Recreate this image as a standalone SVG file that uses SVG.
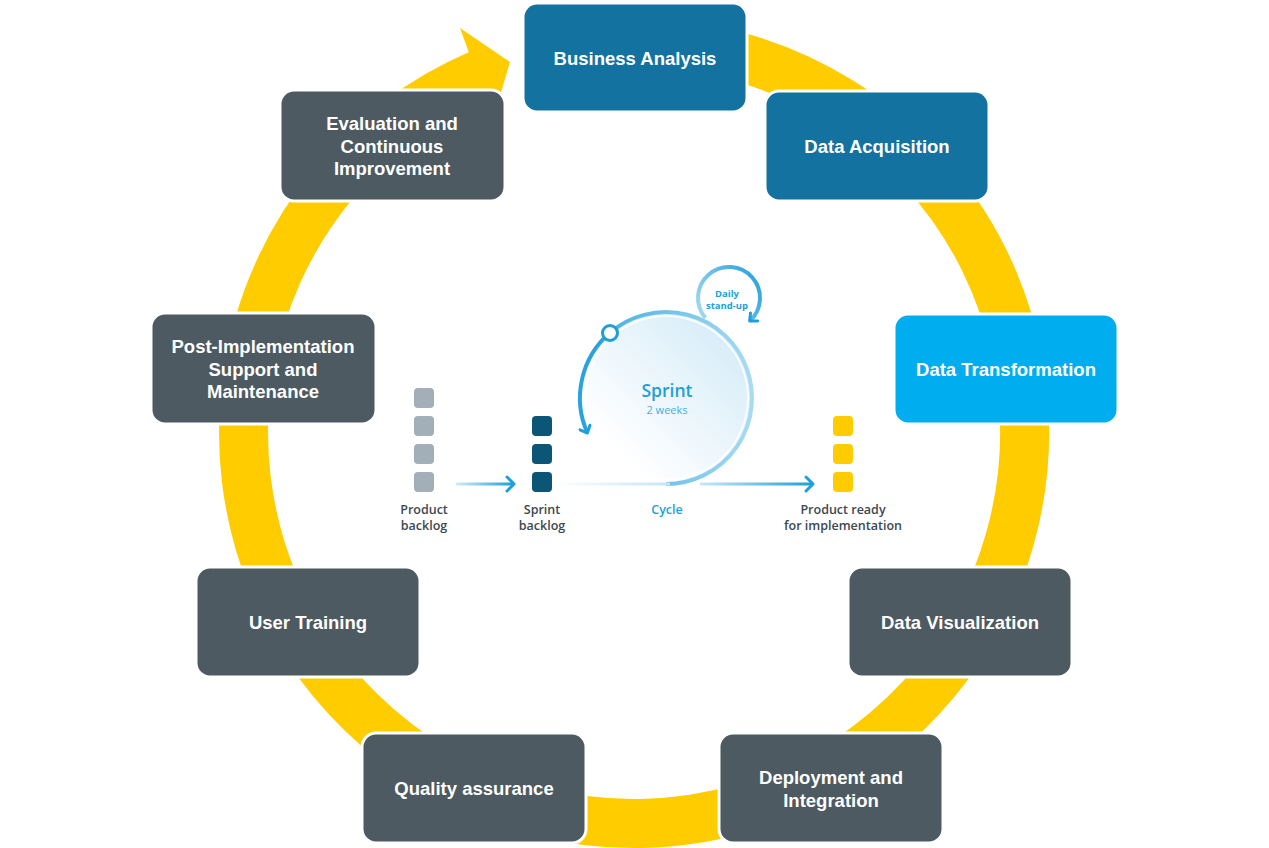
<svg xmlns="http://www.w3.org/2000/svg" width="1269" height="848" viewBox="0 0 1269 848">
<defs>
<style>
.box{stroke:#ffffff;stroke-width:3}
.blue{fill:#13729F}
.cyan{fill:#00AEEF}
.dark{fill:#4D5A61}
.lbl{font-family:"Liberation Sans",Arial,sans-serif;font-weight:700;font-size:18.5px;fill:#ffffff;text-anchor:middle}
.small{font-family:"Open Sans","Liberation Sans",sans-serif;font-weight:600;font-size:12.5px;fill:#3C4850;text-anchor:middle}
.chev{fill:none;stroke:#1E9FD9;stroke-width:3;stroke-linecap:round;stroke-linejoin:round}
</style>
<linearGradient id="gArrow1" x1="0" y1="0" x2="1" y2="0"><stop offset="0" stop-color="#D4ECF8"/><stop offset="1" stop-color="#1E9FD9"/></linearGradient>
<linearGradient id="gBase" x1="0" y1="0" x2="1" y2="0"><stop offset="0" stop-color="#ffffff"/><stop offset="1" stop-color="#C4E5F5"/></linearGradient>
<linearGradient id="gArrow2" x1="0" y1="0" x2="1" y2="0"><stop offset="0" stop-color="#CBE8F6"/><stop offset="1" stop-color="#1E9FD9"/></linearGradient>
<linearGradient id="gFill" x1="1" y1="0" x2="0" y2="1"><stop offset="0" stop-color="#CFE9F7"/><stop offset="0.8" stop-color="#ffffff"/></linearGradient>
<linearGradient id="gRing" gradientUnits="userSpaceOnUse" x1="580" y1="0" x2="752" y2="0"><stop offset="0" stop-color="#3AAAE0"/><stop offset="1" stop-color="#A8DBF2"/></linearGradient>
<linearGradient id="gLoop" gradientUnits="userSpaceOnUse" x1="698" y1="320" x2="762" y2="280"><stop offset="0" stop-color="#A8DBF2"/><stop offset="1" stop-color="#2AA3DD"/></linearGradient>
<marker id="chevM" markerUnits="userSpaceOnUse" viewBox="0 0 14 14" refX="9" refY="7" markerWidth="14" markerHeight="14" orient="auto">
<path d="M3,1.5 L9,7 L3,12.5" fill="none" stroke="#1E9FD9" stroke-width="3" stroke-linecap="round" stroke-linejoin="round"/>
</marker>
</defs>
<rect width="1269" height="848" fill="#ffffff"/>

<g id="connectors">
<path id="cycle-ring" d="M 566.2 48.4 A 390.5 390.5 0 1 1 478.9 74.6" fill="none" stroke="#FFCC00" stroke-width="49"/>
<polygon id="cycle-head" points="460,28 510,62 493,119" fill="#FFCC00"/>
</g>

<g id="sprint">
<circle cx="666" cy="398" r="86" fill="url(#gFill)"/>
<circle cx="666" cy="398" r="82" fill="none" stroke="#ffffff" stroke-width="2" opacity="0.8"/>
<path d="M 666 484 A 86 86 0 1 0 609.9 332.8" fill="none" stroke="url(#gRing)" stroke-width="4"/>
<path d="M 609.9 332.8 A 86 86 0 0 0 587.4 433" fill="none" stroke="#2AA3DD" stroke-width="4" marker-end="url(#chevM)"/>
<path d="M 705.3 317.9 A 31 31 0 1 1 749.7 321" fill="none" stroke="url(#gLoop)" stroke-width="4" marker-end="url(#chevM)"/>
<circle cx="610" cy="333" r="7.5" fill="#ffffff" stroke="#1E9FD9" stroke-width="3"/>
<text x="667" y="397" font-family="Open Sans, Liberation Sans, sans-serif" font-weight="600" font-size="17.5" fill="#1E9FD9" text-anchor="middle">Sprint</text>
<text x="667" y="414" font-family="Open Sans, Liberation Sans, sans-serif" font-size="11" fill="#45ADE0" text-anchor="middle">2 weeks</text>
<text x="727" y="297" font-family="Open Sans, Liberation Sans, sans-serif" font-weight="700" font-size="9.5" fill="#1E9FD9" text-anchor="middle">Daily</text>
<text x="727" y="309" font-family="Open Sans, Liberation Sans, sans-serif" font-weight="700" font-size="9.5" fill="#1E9FD9" text-anchor="middle">stand-up</text>

<rect x="555" y="482.5" width="115" height="3" fill="url(#gBase)"/>
<rect x="456" y="482.5" width="56" height="3" fill="url(#gArrow1)"/>
<path class="chev" d="M507,477 L514,484 L507,491"/>
<rect x="700" y="482.5" width="112" height="3" fill="url(#gArrow2)"/>
<path class="chev" d="M806,477 L813,484 L806,491"/>

<g id="product-backlog">
<rect x="414" y="388" width="20" height="20" rx="4" fill="#A2AFB8"/>
<rect x="414" y="416" width="20" height="20" rx="4" fill="#A2AFB8"/>
<rect x="414" y="444" width="20" height="20" rx="4" fill="#A2AFB8"/>
<rect x="414" y="472" width="20" height="20" rx="4" fill="#A2AFB8"/>
<text class="small" x="424" y="514">Product</text>
<text class="small" x="424" y="530">backlog</text>
</g>
<g id="sprint-backlog">
<rect x="532" y="416" width="20" height="20" rx="4" fill="#0B5577"/>
<rect x="532" y="444" width="20" height="20" rx="4" fill="#0B5577"/>
<rect x="532" y="472" width="20" height="20" rx="4" fill="#0B5577"/>
<text class="small" x="542" y="514">Sprint</text>
<text class="small" x="542" y="530">backlog</text>
</g>
<text x="667" y="514" font-family="Open Sans, Liberation Sans, sans-serif" font-weight="600" font-size="12.5" fill="#1E9FD9" text-anchor="middle">Cycle</text>
<g id="product-ready">
<rect x="833" y="416" width="20" height="20" rx="4" fill="#FFCC00"/>
<rect x="833" y="444" width="20" height="20" rx="4" fill="#FFCC00"/>
<rect x="833" y="472" width="20" height="20" rx="4" fill="#FFCC00"/>
<text class="small" x="843" y="514">Product ready</text>
<text class="small" x="843" y="530">for implementation</text>
</g>
</g>

<g id="business-analysis">
<rect class="box blue" x="523" y="3" width="224" height="109" rx="14"/>
<text class="lbl" x="635" y="65">Business Analysis</text>
</g>
<g id="data-acquisition">
<rect class="box blue" x="765" y="91" width="224" height="110" rx="14"/>
<text class="lbl" x="877" y="153">Data Acquisition</text>
</g>
<g id="data-transformation">
<rect class="box cyan" x="894" y="314" width="224" height="110" rx="14"/>
<text class="lbl" x="1006" y="376">Data Transformation</text>
</g>
<g id="data-visualization">
<rect class="box dark" x="848" y="567" width="224" height="110" rx="14"/>
<text class="lbl" x="960" y="629">Data Visualization</text>
</g>
<g id="deployment-integration">
<rect class="box dark" x="719" y="733" width="224" height="110" rx="14"/>
<text class="lbl" x="831" y="784">Deployment and</text>
<text class="lbl" x="831" y="807">Integration</text>
</g>
<g id="quality-assurance">
<rect class="box dark" x="362" y="733" width="224" height="110" rx="14"/>
<text class="lbl" x="474" y="795">Quality assurance</text>
</g>
<g id="user-training">
<rect class="box dark" x="196" y="567" width="224" height="110" rx="14"/>
<text class="lbl" x="308" y="629">User Training</text>
</g>
<g id="post-implementation">
<rect class="box dark" x="151" y="313" width="225" height="111" rx="14"/>
<text class="lbl" x="263" y="353">Post-Implementation</text>
<text class="lbl" x="263" y="375.5">Support and</text>
<text class="lbl" x="263" y="398">Maintenance</text>
</g>
<g id="evaluation">
<rect class="box dark" x="280" y="90" width="225" height="111" rx="14"/>
<text class="lbl" x="392" y="130">Evaluation and</text>
<text class="lbl" x="392" y="152.5">Continuous</text>
<text class="lbl" x="392" y="175">Improvement</text>
</g>
</svg>
